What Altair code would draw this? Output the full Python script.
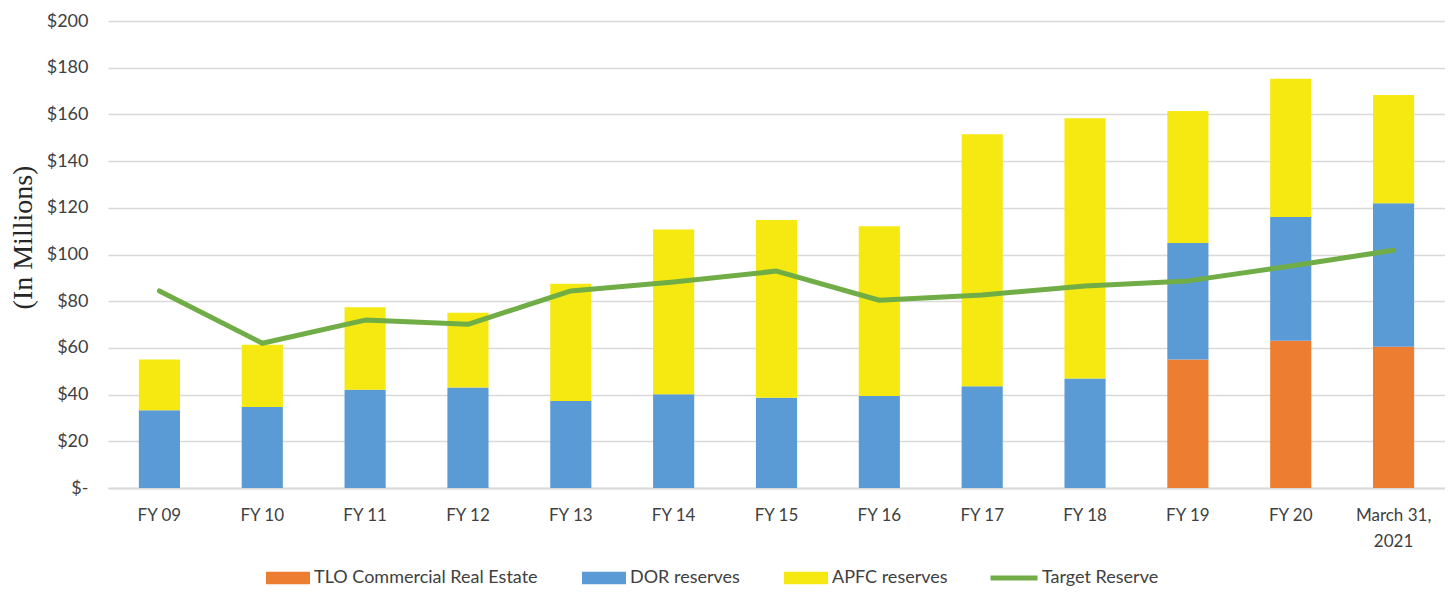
import altair as alt
import pandas as pd

categories = ["FY 09", "FY 10", "FY 11", "FY 12", "FY 13", "FY 14", "FY 15",
              "FY 16", "FY 17", "FY 18", "FY 19", "FY 20", "March 31, 2021"]
tlo_real_estate = [0, 0, 0, 0, 0, 0, 0, 0, 0, 0, 55.0, 63.1, 60.5]
dor_reserves = [33.3, 34.7, 42.1, 43.0, 37.3, 40.1, 38.7, 39.4, 43.6, 46.9, 49.9, 53.0, 61.4]
apfc_reserves = [21.7, 26.7, 35.3, 32.1, 50.2, 70.6, 76.1, 72.7, 107.9, 111.4, 56.6, 59.2, 46.4]
target_reserve = [84.4, 62.0, 71.9, 70.1, 84.4, 88.2, 92.9, 80.4, 82.7, 86.5, 88.7, 95.1, 101.8]

bar_series = ["TLO Commercial Real Estate", "DOR reserves", "APFC reserves"]
bar_colors = ["#ED7D31", "#5B9BD5", "#F5E911"]
line_series = ["Target Reserve"]
line_colors = ["#70AD47"]
y_ticks = list(range(0, 201, 20))

bar_rows = []
for i, c in enumerate(categories):
    for k, vals in enumerate([tlo_real_estate, dor_reserves, apfc_reserves]):
        bar_rows.append({"category": c, "series": bar_series[k], "value": vals[i], "order": k})
bar_df = pd.DataFrame(bar_rows)
line_df = pd.DataFrame({"category": categories, "value": target_reserve,
                        "series": line_series * len(categories)})

FONT = "Lato"

x_enc = alt.X(
    "category:N", sort=categories,
    scale=alt.Scale(paddingInner=0.6, paddingOuter=0.3),
    axis=alt.Axis(
        title=None, labelAngle=0, labelFont=FONT, labelFontSize=17, labelColor="#404040",
        labelPadding=19, ticks=False, domainColor="#D9D9D9", domainWidth=2,
        labelLineHeight=26,
        labelExpr="datum.value == 'March 31, 2021' ? ['March 31,', '2021'] : datum.value",
    ),
)
y_scale = alt.Scale(domain=[0, 200], nice=False)
y_axis = alt.Axis(
    values=y_ticks, labelExpr="datum.value == 0 ? '$-' : '$' + datum.value",
    labelFont=FONT, labelFontSize=18, labelColor="#404040", labelPadding=20,
    ticks=False, domain=False, grid=True, gridColor="#D9D9D9", gridWidth=1.5,
    title="(In Millions)", titleFont="Liberation Serif", titleFontSize=28,
    titleFontWeight="normal", titleColor="#262626", titleAngle=270,
    titleX=-85, titleY=216, titleAlign="center", titleBaseline="middle",
)

bar_legend = alt.Legend(
    title=None, orient="none", legendX=158, legendY=535, direction="horizontal",
    labelFont=FONT, labelFontSize=18, labelColor="#404040", labelOffset=4,
    labelLimit=400, columnPadding=44, symbolSize=1936, padding=0,
    symbolType="M-1,-0.28H1V0.28H-1Z", symbolStrokeWidth=0, symbolOpacity=1,
)
line_legend = alt.Legend(
    title=None, orient="none", legendX=880, legendY=531, direction="horizontal",
    labelFont=FONT, labelFontSize=18, labelColor="#404040", labelOffset=2,
    labelLimit=400, symbolSize=2209, padding=0, symbolType="M-1,0H1",
    symbolStrokeWidth=5, symbolOpacity=1,
)

bars = alt.Chart(bar_df).mark_bar().encode(
    x=x_enc,
    y=alt.Y("value:Q", stack="zero", scale=y_scale, axis=y_axis),
    color=alt.Color("series:N", scale=alt.Scale(domain=bar_series, range=bar_colors),
                    legend=bar_legend),
    order=alt.Order("order:Q", sort="ascending"),
)

line = alt.Chart(line_df).mark_line(strokeWidth=5, strokeJoin="round", strokeCap="round").encode(
    x=x_enc,
    y=alt.Y("value:Q", scale=y_scale, axis=y_axis),
    stroke=alt.Stroke("series:N", scale=alt.Scale(domain=line_series, range=line_colors),
                      legend=line_legend),
)

chart = alt.layer(bars, line).properties(
    width=1337, height=467,
    autosize=alt.AutoSizeParams(type="none"),
    padding={"left": 100, "top": 13, "right": 0, "bottom": 100},
    background="white",
).resolve_scale(color="independent").configure_view(stroke=None)

chart.save("out.html", embed_options={"renderer": "svg", "actions": False})
